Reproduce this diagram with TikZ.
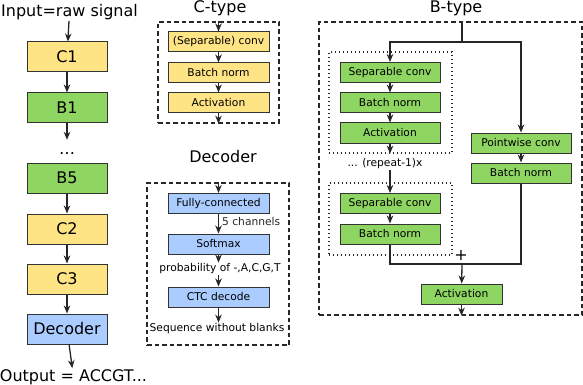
\documentclass[tikz,border=0pt]{standalone}
\usepackage{fontspec}
\setmainfont{DejaVu Sans}
\usetikzlibrary{arrows.meta}

\definecolor{cyel}{HTML}{FFE486}
\definecolor{cgrn}{HTML}{8ED562}
\definecolor{cblu}{HTML}{AACCFF}
\newcommand{\bigtxt}{\fontsize{16}{19}\selectfont}
\newcommand{\smtxt}{\fontsize{10.7}{13}\selectfont}

\tikzset{
  blk/.style={draw=black!80,line width=1pt,inner sep=0pt,minimum width=80pt,minimum height=30pt,font=\bigtxt},
  sblk/.style={draw=black!80,line width=1pt,inner sep=0pt,minimum width=101pt,minimum height=20pt,font=\smtxt},
  arr/.style={-{Stealth[length=8pt,width=6.5pt,inset=2.5pt]},line width=1.3pt,black!85},
  grp/.style={draw=black!85,dash pattern=on 4.5pt off 3pt,line width=1.3pt,inner sep=0pt},
  rgrp/.style={draw=black!85,dash pattern=on 1.3pt off 2.7pt,line width=1.3pt,inner sep=0pt},
  lbl/.style={inner sep=1pt,font=\smtxt}
}

\begin{document}
\begin{tikzpicture}[x=1pt,y=-1pt]
\useasboundingbox (0,0) rectangle (583,385);
% main column
\node[inner sep=1pt,font=\bigtxt] (inp) at (69.5,12) {Input=raw signal};
\foreach \n/\t/\y/\c in {c1/C1/57/cyel, b1/B1/108/cgrn, b5/B5/178/cgrn, c2/C2/229/cyel, c3/C3/279/cyel, dec/Decoder/329/cblu}
  \node[blk,fill=\c] (\n) at (67,\y) {\t};
\node[inner sep=0pt,minimum height=28pt,font=\bigtxt] (dots) at (67,154) {\dots};
\node[inner sep=1pt,font=\bigtxt] (out) at (73.5,377) {Output = ACCGT...};
\draw[arr] (inp) -- (c1);
\draw[arr] (c1) -- (b1);
\draw[arr] (b1) -- (dots);
\draw[arr] (b5) -- (c2);
\draw[arr] (c2) -- (c3);
\draw[arr] (c3) -- (dec);
\draw[arr] (dec) -- (out);

% C-type
\node[font=\bigtxt] (ctit) at (220,8) {C-type};
\node[grp,minimum width=121pt,minimum height=101pt] (cgrp) at (218.5,72.5) {};
\node[sblk,fill=cyel] (cconv) at (218.5,42) {(Separable) conv};
\node[sblk,fill=cyel] (cbn) at (218.5,73) {Batch norm};
\node[sblk,fill=cyel] (cact) at (218.5,103) {Activation};
\draw[arr] (cgrp.north) -- (cconv);
\draw[arr] (cconv) -- (cbn);
\draw[arr] (cbn) -- (cact);
\draw[arr] (cact) -- (cgrp.south);

% Decoder
\node[font=\bigtxt] (dtit) at (223,157) {Decoder};
\node[grp,minimum width=142pt,minimum height=162pt] (dgrp) at (218,264) {};
\node[sblk,fill=cblu] (fc) at (218.5,203.5) {Fully-connected};
\node[sblk,fill=cblu] (smax) at (218.5,244) {Softmax};
\node[sblk,fill=cblu] (ctc) at (218.5,297) {CTC decode};
\node[lbl] (prob) at (220,269) {probability of -,A,C,G,T};
\node[lbl] (seq) at (217,329) {Sequence without blanks};
\draw[arr] (fc|-dgrp.north) -- (fc);
\draw[arr] (fc) -- node[lbl,right,pos=0.4,xshift=2pt] {5 channels} (smax);
\draw[arr] (smax) -- (smax|-prob.north);
\draw[arr] (smax|-prob.south) -- (ctc);
\draw[arr] (ctc) -- (ctc|-seq.north);

% B-type
\node[font=\bigtxt] (btit) at (456,8) {B-type};
\node[grp,minimum width=263pt,minimum height=293pt] (bgrp) at (450.5,168.5) {};
\node[rgrp,minimum width=123pt,minimum height=101pt] (r1) at (390.5,102.5) {};
\node[rgrp,minimum width=123pt,minimum height=72pt] (r2) at (390.5,219) {};
\node[sblk,fill=cgrn,minimum width=100pt] (sep1) at (390,72.5) {Separable conv};
\node[sblk,fill=cgrn,minimum width=100pt] (bn1) at (390,103) {Batch norm};
\node[sblk,fill=cgrn,minimum width=100pt] (act1) at (390,133) {Activation};
\node[lbl] (rep) at (385,164) {... (repeat-1)x};
\node[sblk,fill=cgrn,minimum width=100pt] (sep2) at (390,203.5) {Separable conv};
\node[sblk,fill=cgrn,minimum width=100pt] (bn2) at (390,234) {Batch norm};
\node[sblk,fill=cgrn,minimum width=100pt] (pw) at (521,143) {Pointwise conv};
\node[sblk,fill=cgrn,minimum width=100pt] (bnr) at (521,173) {Batch norm};
\node[inner sep=0pt,font=\bigtxt] (plus) at (461,255) {+};
\node[sblk,fill=cgrn,minimum width=81pt] (bact) at (461.5,294) {Activation};
\coordinate (bin) at (462,22);
\coordinate (split) at (462,42);
\coordinate (sum) at (462,264);
\draw[line width=1.3pt,black!85] (bin) -- (split);
\draw[arr] (split) -| (sep1);
\draw[arr] (split) -| (pw);
\draw[arr] (sep1) -- (bn1);
\draw[arr] (bn1) -- (act1);
\draw[arr] (act1) -- (act1|-r1.south);
\draw[arr] (act1|-rep.south) -- (sep2);
\draw[arr] (sep2) -- (bn2);
\draw[arr] (pw) -- (bnr);
\draw[line width=1.3pt,black!85] (bn2) |- (sum) -| (bnr);
\draw[arr] (sum) -- (bact);
\draw[arr] (bact) -- (bact|-bgrp.south);
\end{tikzpicture}
\end{document}
